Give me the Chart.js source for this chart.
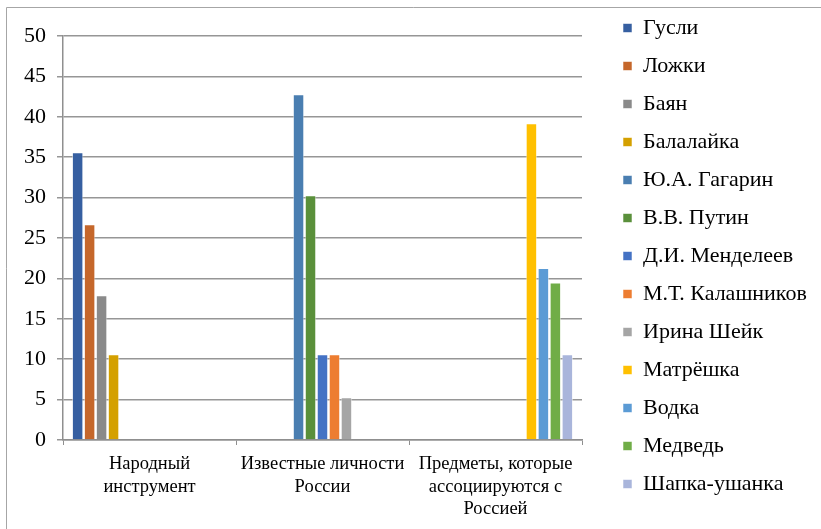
<!DOCTYPE html>
<html>
<head>
<meta charset="utf-8">
<script src="https://cdn.jsdelivr.net/npm/chart.js@4/dist/chart.umd.min.js"></script>
<style>
  html, body { margin: 0; padding: 0; background: #ffffff; }
  #wrap { position: relative; width: 821px; height: 529px; }
</style>
</head>
<body>
<div id="wrap"><canvas id="chart" width="821" height="529"></canvas></div>
<script>
// Categories (multi-line axis labels)
const categories = [
  ['Народный', 'инструмент'],
  ['Известные личности', 'России'],
  ['Предметы, которые', 'ассоциируются с', 'Россией']
];

// Series names
const seriesNames = [
  'Гусли', 'Ложки', 'Баян', 'Балалайка',
  'Ю.А. Гагарин', 'В.В. Путин', 'Д.И. Менделеев', 'М.Т. Калашников', 'Ирина Шейк',
  'Матрёшка', 'Водка', 'Медведь', 'Шапка-ушанка'
];

// Values per series (one value per category, null where the series is absent)
const gusli = [35.6, null, null];
const lozhki = [26.7, null, null];
const bayan = [17.9, null, null];
const balalaika = [10.6, null, null];
const gagarin = [null, 42.8, null];
const putin = [null, 30.3, null];
const mendeleev = [null, 10.6, null];
const kalashnikov = [null, 10.6, null];
const sheik = [null, 5.3, null];
const matryoshka = [null, null, 39.2];
const vodka = [null, null, 21.3];
const medved = [null, null, 19.5];
const ushanka = [null, null, 10.6];

const seriesValues = [gusli, lozhki, bayan, balalaika, gagarin, putin, mendeleev,
  kalashnikov, sheik, matryoshka, vodka, medved, ushanka];

const seriesColors = [
  '#365FA1', '#C5672B', '#8A8A8A', '#D4A000',
  '#4A7EB1', '#5A903B', '#4472C4', '#ED7D31', '#A5A5A5',
  '#FFC000', '#5B9BD5', '#70AD47', '#A9B5DB'
];

// Y axis tick values
const yTicks = [0, 5, 10, 15, 20, 25, 30, 35, 40, 45, 50];

const serif = "'Liberation Serif', 'Times New Roman', serif";

// Frame lines around the chart object
const framePlugin = {
  id: 'frame',
  beforeDraw(chart) {
    const ctx = chart.ctx;
    ctx.save();
    ctx.strokeStyle = '#a6a6a6';
    ctx.lineWidth = 1;
    ctx.beginPath();
    ctx.moveTo(6.5, chart.height);
    ctx.lineTo(6.5, 7.5);
    ctx.lineTo(chart.width, 7.5);
    ctx.stroke();
    ctx.restore();
  }
};

// Legend column: full height, fixed width, set apart from the plot area
const LEGEND_WIDTH = 239;
const LEGEND_LEFT = 607;
const LEGEND_TOP = 1;
const legendPlacePlugin = {
  id: 'legendPlace',
  afterInit(chart) {
    const lg = chart.legend;
    if (!lg || lg._patched) return;
    const origFit = lg.fit.bind(lg);
    lg.fit = function () {
      this.maxHeight = chart.height;
      origFit();
      this.width = LEGEND_WIDTH;
    };
    lg._patched = true;
  },
  afterLayout(chart) {
    const lg = chart.legend;
    if (!lg) return;
    lg.left = LEGEND_LEFT;
    lg.right = LEGEND_LEFT + lg.width;
    lg.top = LEGEND_TOP;
    lg.bottom = chart.height;
  }
};

const datasets = seriesNames.map((name, i) => ({
  label: name,
  data: seriesValues[i],
  backgroundColor: seriesColors[i],
  borderColor: 'rgba(255,255,255,0.55)',
  borderWidth: 1,
  categoryPercentage: 0.9,
  barPercentage: 0.96
}));

new Chart(document.getElementById('chart'), {
  type: 'bar',
  data: { labels: categories, datasets },
  options: {
    responsive: false,
    animation: false,
    devicePixelRatio: 1,
    layout: { padding: { top: 36, left: 0, right: 0, bottom: 0 } },
    plugins: {
      legend: {
        position: 'right',
        align: 'start',
        labels: {
          boxWidth: 9,
          boxHeight: 9,
          padding: 16,
          color: '#000000',
          font: { family: serif, size: 22 }
        }
      },
      tooltip: { enabled: false }
    },
    scales: {
      x: {
        grid: {
          drawOnChartArea: false,
          drawTicks: true,
          tickLength: 5,
          color: '#8f8f8f',
          offset: true
        },
        border: { color: '#8f8f8f', width: 1.5 },
        ticks: {
          color: '#000000',
          font: { family: serif, size: 18.5, lineHeight: 1.22 },
          padding: 8,
          maxRotation: 0,
          autoSkip: false
        },
        afterFit(scale) { scale.height = 89; }
      },
      y: {
        min: 0,
        max: 50,
        afterBuildTicks(scale) { scale.ticks = yTicks.map(v => ({ value: v })); },
        grid: {
          color: '#969696',
          lineWidth: 1.5,
          drawTicks: true,
          tickLength: 6
        },
        border: { color: '#8f8f8f', width: 1.5 },
        ticks: {
          color: '#000000',
          font: { family: serif, size: 22 },
          padding: 11
        },
        afterFit(scale) { scale.width = 63; }
      }
    }
  },
  plugins: [framePlugin, legendPlacePlugin]
});
</script>
</body>
</html>
